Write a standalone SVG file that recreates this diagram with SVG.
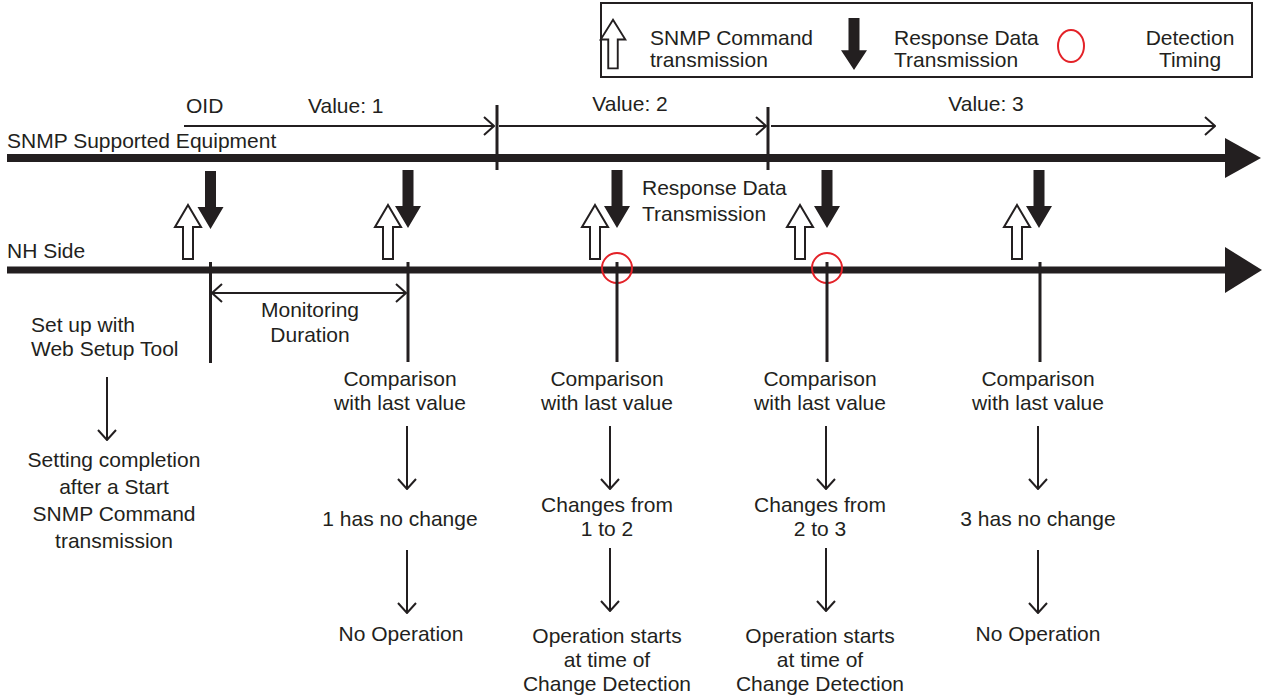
<svg xmlns="http://www.w3.org/2000/svg" width="1263" height="699" viewBox="0 0 1263 699">
<style>
text{font-family:"Liberation Sans",Arial,sans-serif;font-size:21px;fill:#231f20}
.m{text-anchor:middle}
.thin{stroke:#231f20;stroke-width:2;fill:none}
.tick{stroke:#231f20;stroke-width:3;fill:none}
.axis{stroke:#231f20;fill:none}
.hollow{fill:#fff;stroke:#231f20;stroke-width:2;stroke-linejoin:miter}
.solid{fill:#231f20;stroke:none}
.det{fill:none;stroke:#e32228;stroke-width:2}
</style>
<defs>
<marker id="chev" viewBox="0 0 12 20" refX="11" refY="10" markerWidth="12" markerHeight="20" markerUnits="userSpaceOnUse" orient="auto-start-reverse">
<path d="M1,1 L11,10 L1,19" fill="none" stroke="#231f20" stroke-width="2"/>
</marker>
<path id="up" d="M0,-27 L13,-5 L5,-5 L5,27 L-5,27 L-5,-5 L-13,-5 Z"/>
<path id="down" d="M-5.5,-29 L5.5,-29 L5.5,7 L13,7 L0,29 L-13,7 L-5.5,7 Z"/>
</defs>

<g id="legend">
<rect x="601" y="3" width="651" height="74" fill="#fff" stroke="#231f20" stroke-width="2"/>
<use href="#up" class="hollow" transform="translate(613,44) scale(0.95,0.9)"/>
<text x="650" y="45">SNMP Command</text>
<text x="650" y="67">transmission</text>
<use href="#down" class="solid" transform="translate(854,44) scale(1,0.9)"/>
<text x="894" y="45">Response Data</text>
<text x="894" y="67">Transmission</text>
<ellipse cx="1071" cy="46" rx="13" ry="16" class="det"/>
<text x="1190" y="45" class="m">Detection</text>
<text x="1190" y="67" class="m">Timing</text>
</g>

<g id="equipment-timeline">
<text x="7" y="148">SNMP Supported Equipment</text>
<line x1="7" y1="158" x2="1228" y2="158" class="axis" stroke-width="8"/>
<polygon points="1225,138 1261,158 1225,178" class="solid"/>
<text x="186" y="113">OID</text>
<text x="308" y="113">Value: 1</text>
<text x="630" y="111" class="m">Value: 2</text>
<text x="986" y="111" class="m">Value: 3</text>
<line x1="497" y1="105" x2="497" y2="170" class="tick"/>
<line x1="768" y1="107" x2="768" y2="170" class="tick"/>
</g>

<g id="nh-timeline">
<text x="7" y="258">NH Side</text>
<line x1="7" y1="270" x2="1228" y2="270" class="axis" stroke-width="7"/>
<polygon points="1225,247 1262,270 1225,293" class="solid"/>
</g>

<g id="transmissions">
<use href="#up" class="hollow" transform="translate(188,232)"/>
<use href="#down" class="solid" transform="translate(210.5,200)"/>
<use href="#up" class="hollow" transform="translate(388,232)"/>
<use href="#down" class="solid" transform="translate(408,199)"/>
<use href="#up" class="hollow" transform="translate(595,232)"/>
<use href="#down" class="solid" transform="translate(617,199)"/>
<use href="#up" class="hollow" transform="translate(800,232)"/>
<use href="#down" class="solid" transform="translate(827,199)"/>
<use href="#up" class="hollow" transform="translate(1017,232)"/>
<use href="#down" class="solid" transform="translate(1039,199)"/>
<text x="642" y="195">Response Data</text>
<text x="642" y="221">Transmission</text>
</g>

<g id="detections">
<circle cx="617" cy="268" r="15" class="det"/>
<circle cx="827" cy="268" r="15" class="det"/>
</g>

<g id="ticks">
<line x1="210.5" y1="262" x2="210.5" y2="363" class="tick"/>
<line x1="408" y1="262" x2="408" y2="362" class="tick"/>
<line x1="617" y1="262" x2="617" y2="362" class="tick"/>
<line x1="827" y1="262" x2="827" y2="362" class="tick"/>
<line x1="1040" y1="262" x2="1040" y2="362" class="tick"/>
</g>

<g id="connectors">
<line x1="184" y1="126" x2="494" y2="126" class="thin" marker-end="url(#chev)"/>
<line x1="499" y1="126" x2="766" y2="126" class="thin" marker-end="url(#chev)"/>
<line x1="771" y1="126" x2="1215" y2="126" class="thin" marker-end="url(#chev)"/>
<line x1="212" y1="293" x2="406" y2="293" class="thin" marker-start="url(#chev)" marker-end="url(#chev)"/>
<line x1="107" y1="377" x2="107" y2="440" class="thin" marker-end="url(#chev)"/>
<line x1="407" y1="426" x2="407" y2="489" class="thin" marker-end="url(#chev)"/>
<line x1="407" y1="550" x2="407" y2="613" class="thin" marker-end="url(#chev)"/>
<line x1="610" y1="426" x2="610" y2="489" class="thin" marker-end="url(#chev)"/>
<line x1="610" y1="548" x2="610" y2="611" class="thin" marker-end="url(#chev)"/>
<line x1="826" y1="426" x2="826" y2="489" class="thin" marker-end="url(#chev)"/>
<line x1="826" y1="548" x2="826" y2="611" class="thin" marker-end="url(#chev)"/>
<line x1="1038" y1="426" x2="1038" y2="489" class="thin" marker-end="url(#chev)"/>
<line x1="1038" y1="550" x2="1038" y2="613" class="thin" marker-end="url(#chev)"/>
</g>

<g id="monitoring-label">
<text x="310" y="317" class="m">Monitoring</text>
<text x="310" y="342" class="m">Duration</text>
</g>

<g id="setup">
<text x="31" y="332">Set up with</text>
<text x="31" y="356">Web Setup Tool</text>
<text x="114" y="467" class="m">Setting completion</text>
<text x="114" y="494" class="m">after a Start</text>
<text x="114" y="521" class="m">SNMP Command</text>
<text x="114" y="548" class="m">transmission</text>
</g>

<g id="col1">
<text x="400" y="386" class="m">Comparison</text>
<text x="400" y="410" class="m">with last value</text>
<text x="400" y="526" class="m">1 has no change</text>
<text x="401" y="641" class="m">No Operation</text>
</g>

<g id="col2">
<text x="607" y="386" class="m">Comparison</text>
<text x="607" y="410" class="m">with last value</text>
<text x="607" y="512" class="m">Changes from</text>
<text x="607" y="536" class="m">1 to 2</text>
<text x="607" y="643" class="m">Operation starts</text>
<text x="607" y="667" class="m">at time of</text>
<text x="607" y="691" class="m">Change Detection</text>
</g>

<g id="col3">
<text x="820" y="386" class="m">Comparison</text>
<text x="820" y="410" class="m">with last value</text>
<text x="820" y="512" class="m">Changes from</text>
<text x="820" y="536" class="m">2 to 3</text>
<text x="820" y="643" class="m">Operation starts</text>
<text x="820" y="667" class="m">at time of</text>
<text x="820" y="691" class="m">Change Detection</text>
</g>

<g id="col4">
<text x="1038" y="386" class="m">Comparison</text>
<text x="1038" y="410" class="m">with last value</text>
<text x="1038" y="526" class="m">3 has no change</text>
<text x="1038" y="641" class="m">No Operation</text>
</g>
</svg>
